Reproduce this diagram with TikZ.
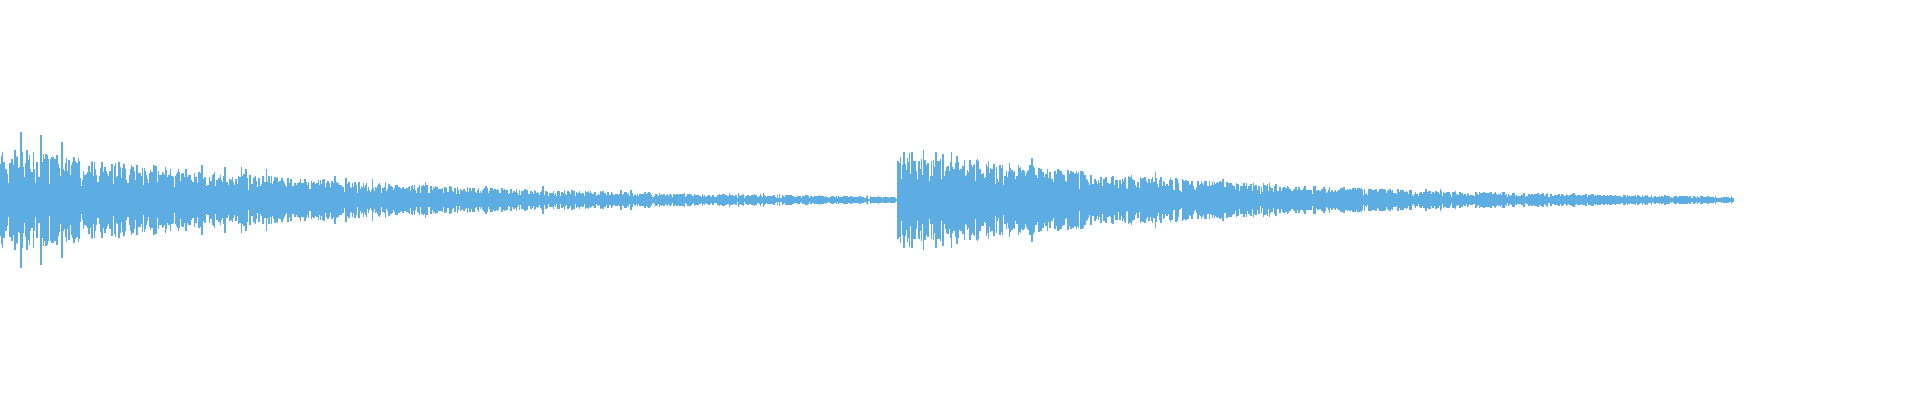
\documentclass[tikz,border=0pt]{standalone}
\definecolor{wave}{HTML}{5DADE2}
\begin{document}
\begin{tikzpicture}[x=0.01cm,y=0.01cm,wv/.style={draw=wave,line width=0.35pt}]
\useasboundingbox (0,0) rectangle (1920,400);
\pgfmathsetseed{42}
\coordinate (s) at (0,200);
\coordinate (e) at (1733,200);
\draw[wv] (s) -- (e);
\foreach \i in {0,...,1790}{
  \pgfmathsetmacro{\xx}{\i*0.5}
  \pgfmathsetmacro{\a}{64*exp(-\xx/330)*(0.25+0.6*rnd^1.5+0.3*(rnd>0.96))}
  \draw[wv] (\xx,200-\a) -- (\xx,200+\a);
}
\foreach \i in {0,...,1670}{
  \pgfmathsetmacro{\xx}{898+\i*0.5}
  \pgfmathsetmacro{\a}{60*exp(-(\xx-898)/310)*(0.3+0.6*rnd^1.5+0.2*(rnd>0.96))}
  \draw[wv] (\xx,200-\a) -- (\xx,200+\a);
}
\end{tikzpicture}
\end{document}
